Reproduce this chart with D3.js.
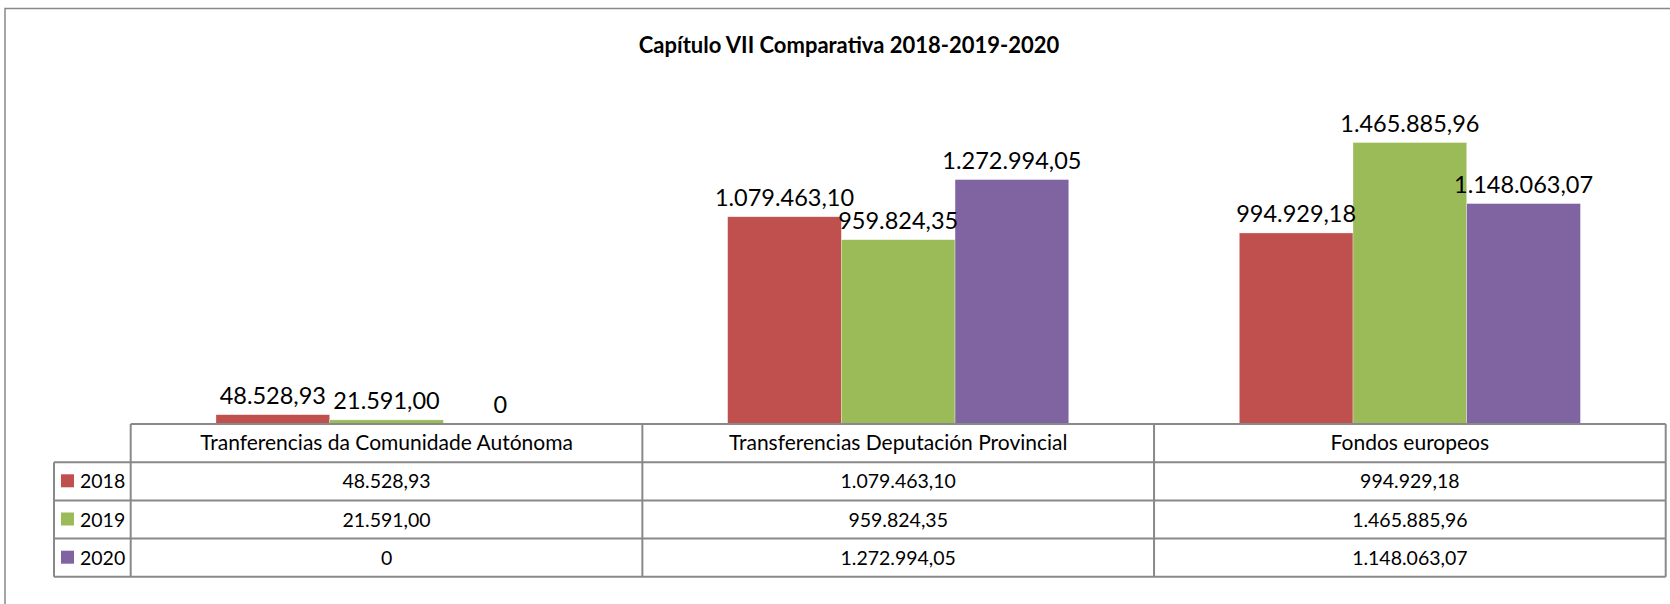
<!DOCTYPE html>
<html>
<head>
<meta charset="utf-8">
<script src="https://cdn.jsdelivr.net/npm/d3@7"></script>
<style>
  body { margin: 0; background: #fff; }
  svg { display: block; font-family: Lato, 'Open Sans', sans-serif; }
</style>
</head>
<body>
<svg width="1670" height="604"></svg>
<script>
// Data
let categories = ['Tranferencias da Comunidade Autónoma', 'Transferencias Deputación Provincial', 'Fondos europeos'];
let years = ['2018', '2019', '2020'];
let values2018 = [48528.93, 1079463.10, 994929.18];
let values2019 = [21591.00, 959824.35, 1465885.96];
let values2020 = [0, 1272994.05, 1148063.07];
let colors = ['#C0504D', '#9BBB59', '#8064A2'];

let series = [values2018, values2019, values2020];

// Select svg and define layout
let svg = d3.select('svg');
let lineColor = '#898989';

let tableLeft = 54;
let plotLeft = 130.7;
let plotRight = 1665.7;
let baseY = 424;
let rowH = 38.2;

// Number format: 1.234.567,89
let locale = d3.formatLocale({ decimal: ',', thousands: '.', grouping: [3], currency: ['', '€'] });
let fmt = v => v === 0 ? '0' : locale.format(',.2f')(v);

// Outer chart frame (extends past the window on the right and bottom)
svg.append('rect')
    .attr('x', 5)
    .attr('y', 8.5)
    .attr('width', 1688)
    .attr('height', 640)
    .attr('fill', 'none')
    .attr('stroke', lineColor)
    .attr('stroke-width', 1.5);

// Title
svg.append('text')
    .attr('x', 849)
    .attr('y', 53)
    .attr('text-anchor', 'middle')
    .attr('font-weight', 'bold')
    .attr('font-size', 22)
    .attr('fill', '#000')
    .text('Capítulo VII Comparativa 2018-2019-2020');

// Scales
let x0 = d3.scaleBand()
    .domain(categories)
    .range([plotLeft, plotRight]);

let x1 = d3.scaleBand()
    .domain(years)
    .range([0, x0.bandwidth()])
    .paddingOuter(0.75);

let y = d3.scaleLinear()
    .domain([0, 1600000])
    .range([baseY, baseY - 1.6 * 192]);

// Bars
let groups = svg.append('g')
    .attr('class', 'bars')
  .selectAll('g')
  .data(categories)
  .enter().append('g')
    .attr('transform', d => 'translate(' + x0(d) + ',0)');

groups.selectAll('rect')
  .data((c, i) => years.map((yr, j) => ({ year: yr, value: series[j][i], color: colors[j] })))
  .enter().append('rect')
    .attr('x', d => x1(d.year))
    .attr('y', d => y(d.value))
    .attr('width', x1.bandwidth())
    .attr('height', d => baseY - y(d.value))
    .attr('fill', d => d.color)
    .attr('stroke', '#fff')
    .attr('stroke-opacity', 0.5)
    .attr('stroke-width', 0.6);

// Data labels
groups.selectAll('text')
  .data((c, i) => years.map((yr, j) => ({ year: yr, value: series[j][i] })))
  .enter().append('text')
    .attr('x', d => x1(d.year) + x1.bandwidth() / 2)
    .attr('y', d => y(d.value) - 11)
    .attr('text-anchor', 'middle')
    .attr('font-size', 23.5)
    .attr('fill', '#000')
    .text(d => fmt(d.value));

// Data table
let table = svg.append('g').attr('class', 'table');

// Horizontal lines
table.append('line')
    .attr('x1', plotLeft).attr('x2', plotRight)
    .attr('y1', baseY).attr('y2', baseY);
d3.range(1, 5).forEach(r => {
  table.append('line')
      .attr('x1', tableLeft).attr('x2', plotRight)
      .attr('y1', baseY + r * rowH).attr('y2', baseY + r * rowH);
});

// Vertical lines
table.append('line')
    .attr('x1', tableLeft).attr('x2', tableLeft)
    .attr('y1', baseY + rowH).attr('y2', baseY + 4 * rowH);
x0.domain().concat(['end']).forEach((c, i) => {
  let xx = plotLeft + i * x0.bandwidth();
  table.append('line')
      .attr('x1', xx).attr('x2', xx)
      .attr('y1', baseY).attr('y2', baseY + 4 * rowH);
});

table.selectAll('line')
    .attr('stroke', lineColor)
    .attr('stroke-width', 2);

// Header texts
table.selectAll('text.header')
  .data(categories)
  .enter().append('text')
    .attr('class', 'header')
    .attr('x', d => x0(d) + x0.bandwidth() / 2)
    .attr('y', baseY + rowH / 2 + 7)
    .attr('text-anchor', 'middle')
    .attr('font-size', 21)
    .text(d => d);

// Rows
years.forEach((yr, j) => {
  let cy = baseY + (j + 1.5) * rowH;

  table.append('rect')
      .attr('x', 61)
      .attr('y', cy - 7)
      .attr('width', 13)
      .attr('height', 13)
      .attr('fill', colors[j]);

  table.append('text')
      .attr('x', 80)
      .attr('y', cy + 7)
      .attr('font-size', 19.5)
      .text(yr);

  table.selectAll('text.row' + j)
    .data(categories)
    .enter().append('text')
      .attr('class', 'row' + j)
      .attr('x', d => x0(d) + x0.bandwidth() / 2)
      .attr('y', cy + 7)
      .attr('text-anchor', 'middle')
      .attr('font-size', 19.5)
      .text((d, i) => fmt(series[j][i]));
});
</script>
</body>
</html>
